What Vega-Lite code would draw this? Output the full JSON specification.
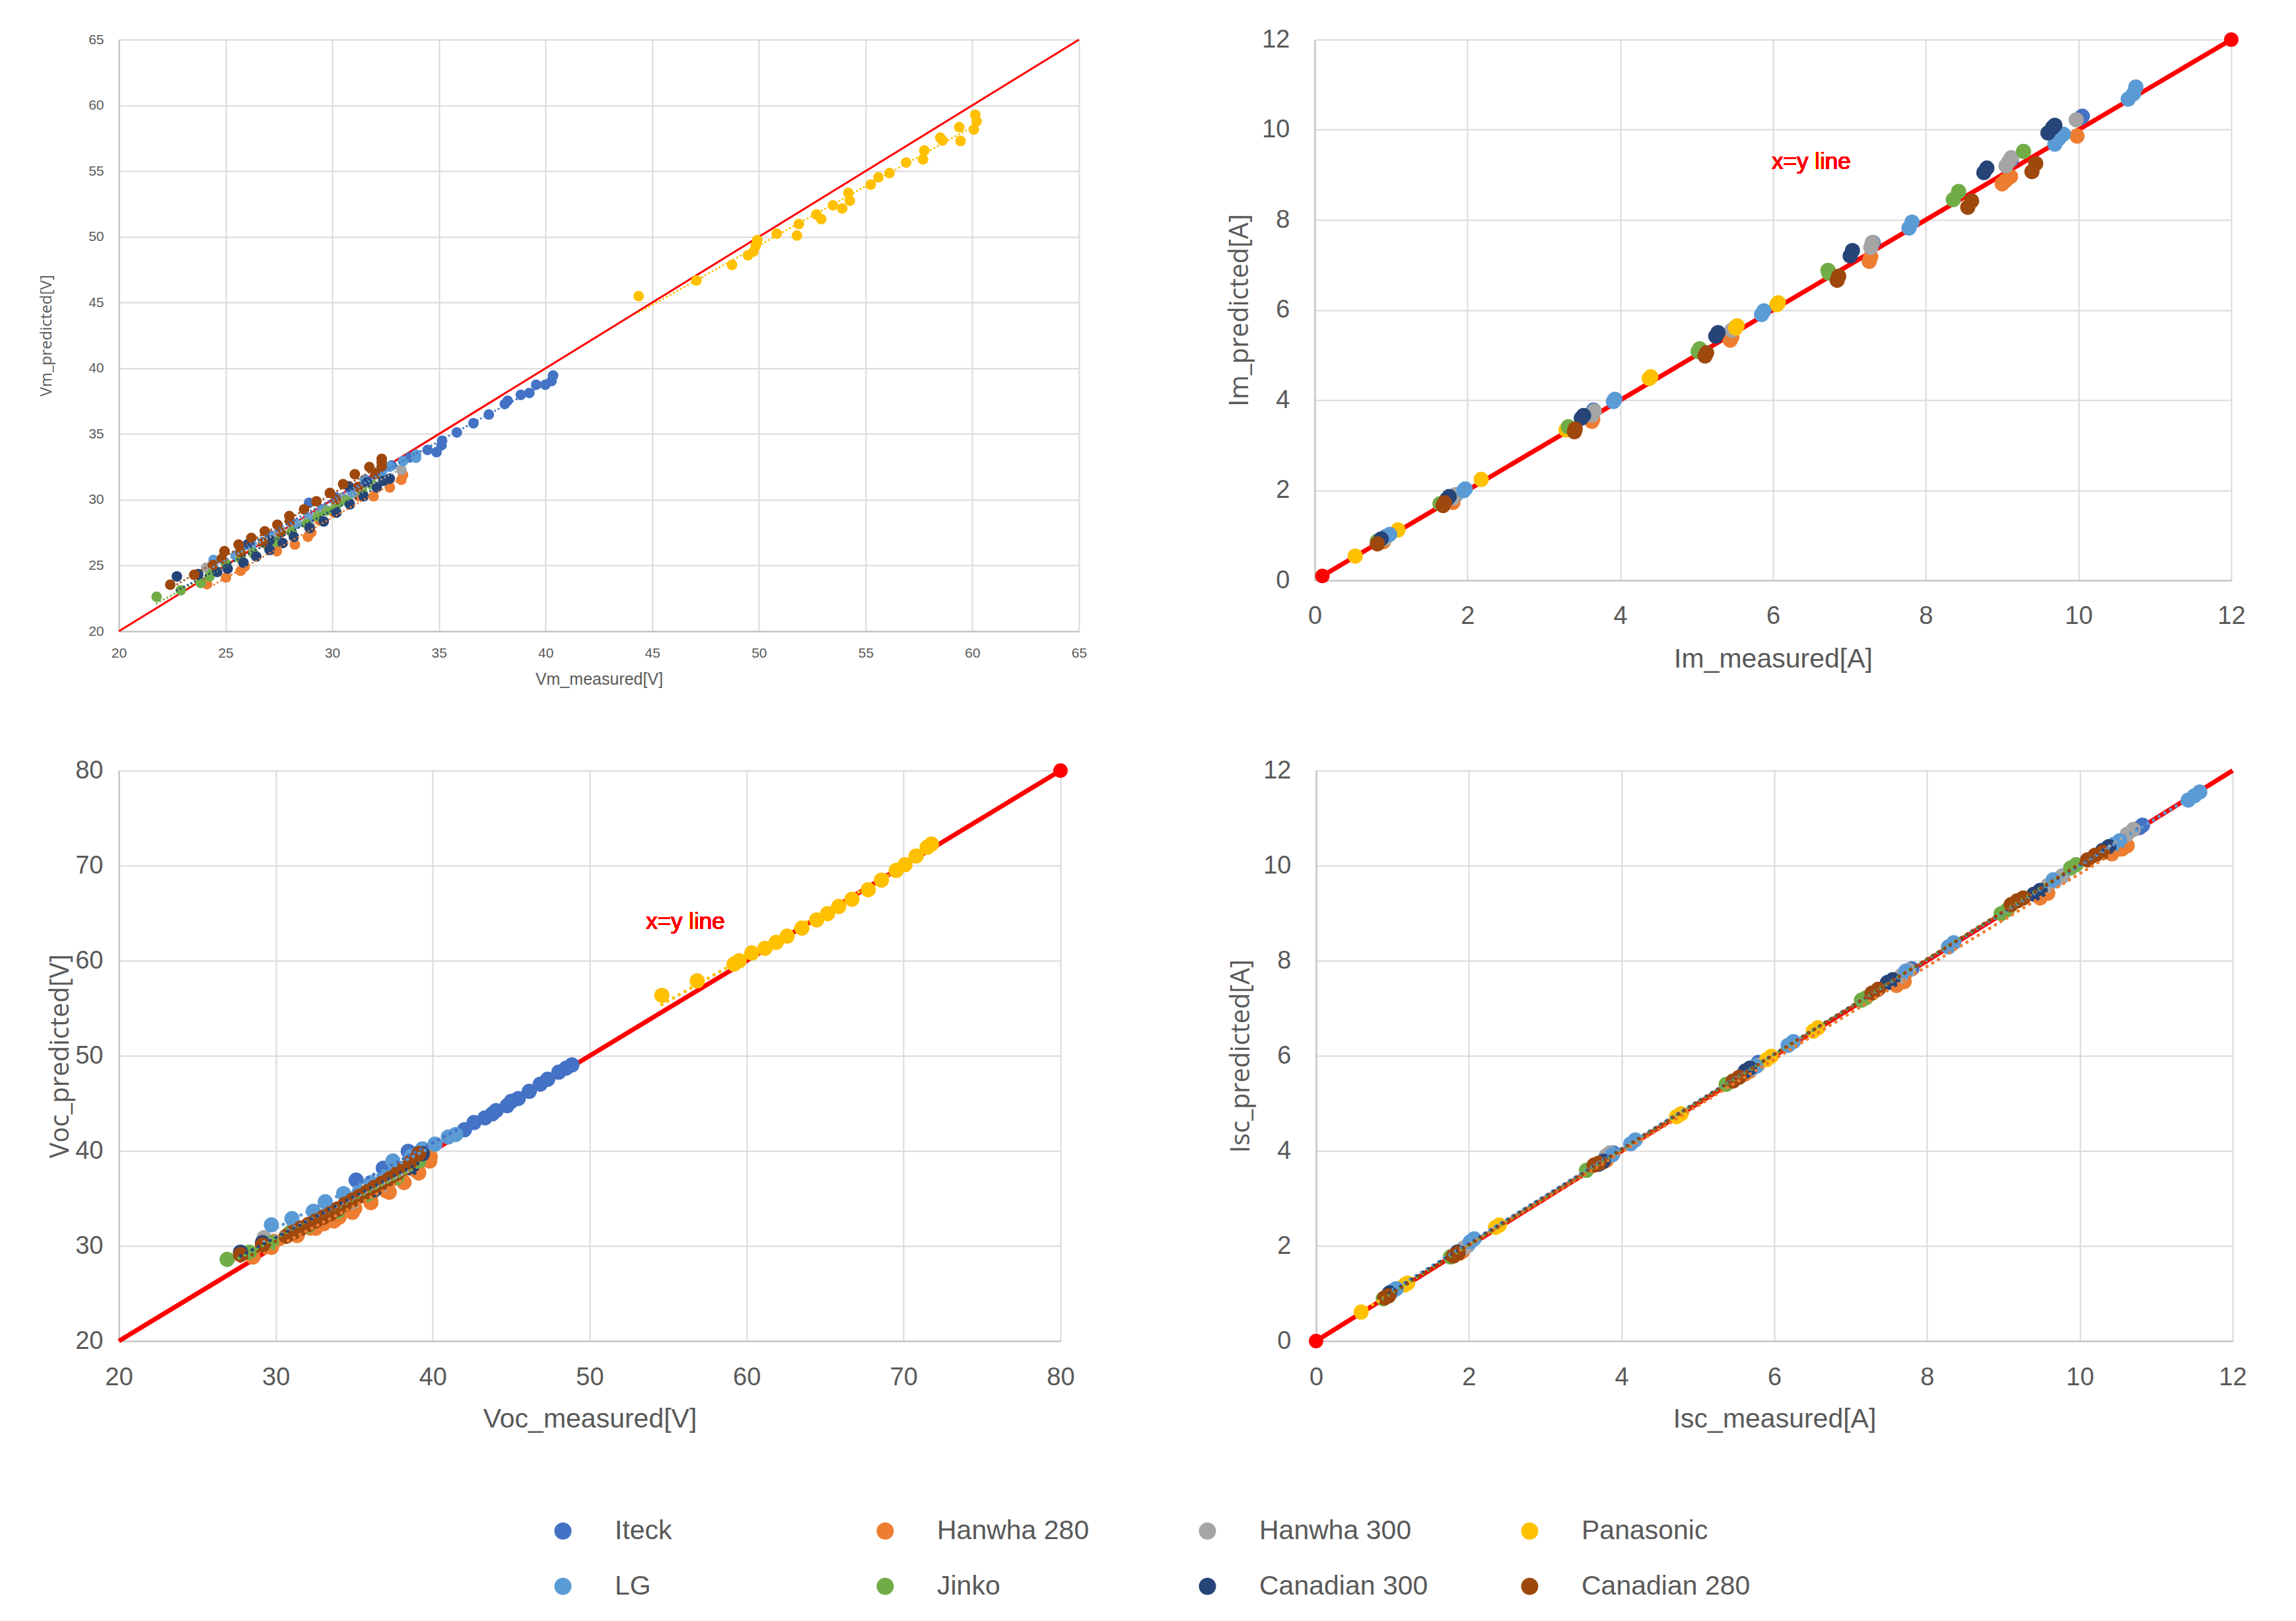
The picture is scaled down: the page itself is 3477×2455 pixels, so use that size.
{
  "$schema": "https://vega.github.io/schema/vega-lite/v6.json",
  "background": "white",
  "padding": {"left": 58, "top": 41, "right": 20, "bottom": 20},
  "spacing": 107,
  "config": {
    "view": {"stroke": null},
    "axis": {
      "gridColor": "#d9d9d9", "gridWidth": 2, "domainColor": "#bfbfbf", "domainWidth": 2,
      "ticks": false, "tickSize": 0, "labelColor": "#595959", "titleColor": "#595959",
      "labelFont": "Liberation Sans", "titleFont": "Liberation Sans",
      "titleFontWeight": "normal", "labelFlush": false, "labelOverlap": false
    },
    "legend": {
      "orient": "none", "legendX": 652, "legendY": 2238, "direction": "horizontal", "columns": 4,
      "gridAlign": "all", "columnPadding": 133, "rowPadding": 42, "symbolType": "circle",
      "symbolSize": 676, "symbolStrokeWidth": 0, "symbolOpacity": 1,
      "labelFont": "Liberation Sans", "labelFontSize": 41,
      "labelColor": "#595959", "labelOffset": 58, "labelLimit": 0
    }
  },
  "datasets": {
    "vm": [
      {"series":"Iteck","measured":40.35,"predicted":39.45},{"series":"Iteck","measured":40.28,"predicted":39.03},{"series":"Iteck","measured":39.99,"predicted":38.75},{"series":"Iteck","measured":39.56,"predicted":38.75},{"series":"Iteck","measured":39.24,"predicted":38.12},{"series":"Iteck","measured":38.84,"predicted":37.98},{"series":"Iteck","measured":38.22,"predicted":37.53},{"series":"Iteck","measured":38.09,"predicted":37.28},{"series":"Iteck","measured":37.34,"predicted":36.48},{"series":"Iteck","measured":36.62,"predicted":35.82},{"series":"Iteck","measured":35.84,"predicted":35.12},{"series":"Iteck","measured":35.15,"predicted":34.49},{"series":"Iteck","measured":35.12,"predicted":34.14},{"series":"Iteck","measured":34.89,"predicted":33.62},{"series":"Iteck","measured":34.47,"predicted":33.79},{"series":"Iteck","measured":33.63,"predicted":33.22},{"series":"Iteck","measured":32.78,"predicted":32.6},{"series":"Iteck","measured":31.55,"predicted":31.52},{"series":"Iteck","measured":30.17,"predicted":30.18},{"series":"Iteck","measured":28.91,"predicted":29.77},{"series":"Iteck","measured":27.1,"predicted":27.26},{"series":"Iteck","measured":26.02,"predicted":26.59},
      {"series":"Hanwha 280","measured":24.13,"predicted":23.59},{"series":"Hanwha 280","measured":25.02,"predicted":24.09},{"series":"Hanwha 280","measured":25.71,"predicted":24.59},{"series":"Hanwha 280","measured":25.9,"predicted":24.92},{"series":"Hanwha 280","measured":27.4,"predicted":26.09},{"series":"Hanwha 280","measured":28.25,"predicted":26.59},{"series":"Hanwha 280","measured":28.86,"predicted":27.18},{"series":"Hanwha 280","measured":29.02,"predicted":27.51},{"series":"Hanwha 280","measured":29.4,"predicted":28.43},{"series":"Hanwha 280","measured":30.09,"predicted":29.02},{"series":"Hanwha 280","measured":31.24,"predicted":30.27},{"series":"Hanwha 280","measured":31.94,"predicted":30.27},{"series":"Hanwha 280","measured":32.7,"predicted":30.93},{"series":"Hanwha 280","measured":33.24,"predicted":31.52},{"series":"Hanwha 280","measured":33.32,"predicted":31.89},
      {"series":"Hanwha 300","measured":24.1,"predicted":24.84},{"series":"Hanwha 300","measured":27.4,"predicted":27.35},{"series":"Hanwha 300","measured":28.94,"predicted":28.01},{"series":"Hanwha 300","measured":30.48,"predicted":30.18},{"series":"Hanwha 300","measured":31.55,"predicted":31.35},{"series":"Hanwha 300","measured":33.24,"predicted":32.27},
      {"series":"Panasonic","measured":44.36,"predicted":45.49},{"series":"Panasonic","measured":47.07,"predicted":46.68},{"series":"Panasonic","measured":48.74,"predicted":47.86},{"series":"Panasonic","measured":49.49,"predicted":48.6},{"series":"Panasonic","measured":49.75,"predicted":48.88},{"series":"Panasonic","measured":49.85,"predicted":49.33},{"series":"Panasonic","measured":49.92,"predicted":49.75},{"series":"Panasonic","measured":50.83,"predicted":50.24},{"series":"Panasonic","measured":51.78,"predicted":50.1},{"series":"Panasonic","measured":51.87,"predicted":50.97},{"series":"Panasonic","measured":52.69,"predicted":51.7},{"series":"Panasonic","measured":52.92,"predicted":51.35},{"series":"Panasonic","measured":53.47,"predicted":52.4},{"series":"Panasonic","measured":53.9,"predicted":52.16},{"series":"Panasonic","measured":54.19,"predicted":53.34},{"series":"Panasonic","measured":54.26,"predicted":52.75},{"series":"Panasonic","measured":55.24,"predicted":53.97},{"series":"Panasonic","measured":55.6,"predicted":54.53},{"series":"Panasonic","measured":56.12,"predicted":54.85},{"series":"Panasonic","measured":56.9,"predicted":55.65},{"series":"Panasonic","measured":57.69,"predicted":55.89},{"series":"Panasonic","measured":57.75,"predicted":56.56},{"series":"Panasonic","measured":58.5,"predicted":57.54},{"series":"Panasonic","measured":58.6,"predicted":57.33},{"series":"Panasonic","measured":59.39,"predicted":58.34},{"series":"Panasonic","measured":59.45,"predicted":57.29},{"series":"Panasonic","measured":60.07,"predicted":58.16},{"series":"Panasonic","measured":60.14,"predicted":59.28},{"series":"Panasonic","measured":60.2,"predicted":58.79},
      {"series":"LG","measured":24.44,"predicted":25.43},{"series":"LG","measured":25.48,"predicted":25.76},{"series":"LG","measured":26.22,"predicted":26.54},{"series":"LG","measured":27.1,"predicted":27.18},{"series":"LG","measured":28.33,"predicted":28.18},{"series":"LG","measured":28.94,"predicted":28.6},{"series":"LG","measured":29.55,"predicted":29.27},{"series":"LG","measured":30.25,"predicted":29.77},{"series":"LG","measured":30.94,"predicted":30.52},{"series":"LG","measured":31.52,"predicted":31.52},{"series":"LG","measured":32.17,"predicted":32.1},{"series":"LG","measured":32.32,"predicted":31.85},{"series":"LG","measured":32.7,"predicted":32.52},{"series":"LG","measured":33.32,"predicted":32.94},{"series":"LG","measured":33.93,"predicted":33.44},{"series":"LG","measured":33.93,"predicted":33.19},
      {"series":"Jinko","measured":21.77,"predicted":22.62},{"series":"Jinko","measured":22.9,"predicted":23.12},{"series":"Jinko","measured":23.84,"predicted":23.67},{"series":"Jinko","measured":24.25,"predicted":24.17},{"series":"Jinko","measured":24.41,"predicted":24.59},{"series":"Jinko","measured":25.02,"predicted":25.14},{"series":"Jinko","measured":25.71,"predicted":25.51},{"series":"Jinko","measured":26.3,"predicted":25.93},{"series":"Jinko","measured":27.02,"predicted":26.34},{"series":"Jinko","measured":27.4,"predicted":26.81},{"series":"Jinko","measured":28.1,"predicted":27.55},{"series":"Jinko","measured":28.79,"predicted":28.18},{"series":"Jinko","measured":29.32,"predicted":28.76},{"series":"Jinko","measured":29.74,"predicted":29.18},{"series":"Jinko","measured":30.17,"predicted":29.52},{"series":"Jinko","measured":30.63,"predicted":29.93},{"series":"Jinko","measured":31.4,"predicted":30.68},{"series":"Jinko","measured":31.86,"predicted":31.19},
      {"series":"Canadian 300","measured":22.72,"predicted":24.17},{"series":"Canadian 300","measured":23.72,"predicted":24.34},{"series":"Canadian 300","measured":24.61,"predicted":24.51},{"series":"Canadian 300","measured":25.1,"predicted":24.76},{"series":"Canadian 300","measured":25.84,"predicted":25.21},{"series":"Canadian 300","measured":26.1,"predicted":26.68},{"series":"Canadian 300","measured":26.44,"predicted":25.68},{"series":"Canadian 300","measured":27.07,"predicted":26.18},{"series":"Canadian 300","measured":27.07,"predicted":26.93},{"series":"Canadian 300","measured":27.68,"predicted":26.71},{"series":"Canadian 300","measured":28.2,"predicted":27.18},{"series":"Canadian 300","measured":28.94,"predicted":27.85},{"series":"Canadian 300","measured":29.6,"predicted":28.35},{"series":"Canadian 300","measured":30.2,"predicted":29.02},{"series":"Canadian 300","measured":30.83,"predicted":29.65},{"series":"Canadian 300","measured":30.78,"predicted":31.02},{"series":"Canadian 300","measured":31.47,"predicted":30.27},{"series":"Canadian 300","measured":31.63,"predicted":31.32},{"series":"Canadian 300","measured":32.09,"predicted":30.93},{"series":"Canadian 300","measured":32.4,"predicted":31.44},{"series":"Canadian 300","measured":32.7,"predicted":31.6},
      {"series":"Canadian 280","measured":22.41,"predicted":23.54},{"series":"Canadian 280","measured":23.53,"predicted":24.29},{"series":"Canadian 280","measured":24.41,"predicted":25.04},{"series":"Canadian 280","measured":24.82,"predicted":25.51},{"series":"Canadian 280","measured":24.95,"predicted":26.09},{"series":"Canadian 280","measured":25.61,"predicted":26.59},{"series":"Canadian 280","measured":25.71,"predicted":26.01},{"series":"Canadian 280","measured":26.21,"predicted":27.1},{"series":"Canadian 280","measured":26.76,"predicted":26.76},{"series":"Canadian 280","measured":26.84,"predicted":27.6},{"series":"Canadian 280","measured":27.43,"predicted":28.1},{"series":"Canadian 280","measured":27.6,"predicted":27.51},{"series":"Canadian 280","measured":27.99,"predicted":28.76},{"series":"Canadian 280","measured":28.02,"predicted":28.35},{"series":"Canadian 280","measured":28.68,"predicted":29.27},{"series":"Canadian 280","measured":29.26,"predicted":29.88},{"series":"Canadian 280","measured":29.89,"predicted":30.52},{"series":"Canadian 280","measured":30.17,"predicted":30.02},{"series":"Canadian 280","measured":30.51,"predicted":31.19},{"series":"Canadian 280","measured":31.06,"predicted":31.94},{"series":"Canadian 280","measured":31.21,"predicted":30.98},{"series":"Canadian 280","measured":31.74,"predicted":32.49},{"series":"Canadian 280","measured":32.01,"predicted":31.94},{"series":"Canadian 280","measured":32.32,"predicted":33.11},{"series":"Canadian 280","measured":32.32,"predicted":32.52},{"series":"Canadian 280","measured":32.32,"predicted":32.85}
    ],
    "im": [
      {"series":"Iteck","measured":0.93,"predicted":0.97},{"series":"Iteck","measured":1.85,"predicted":1.9},{"series":"Iteck","measured":3.65,"predicted":3.78},{"series":"Iteck","measured":5.5,"predicted":5.6},{"series":"Iteck","measured":7.31,"predicted":7.5},{"series":"Iteck","measured":9.12,"predicted":9.33},{"series":"Iteck","measured":10.03,"predicted":10.27},{"series":"Iteck","measured":10.05,"predicted":10.3},
      {"series":"Hanwha 280","measured":0.9,"predicted":0.86},{"series":"Hanwha 280","measured":1.81,"predicted":1.73},{"series":"Hanwha 280","measured":3.63,"predicted":3.53},{"series":"Hanwha 280","measured":3.64,"predicted":3.58},{"series":"Hanwha 280","measured":5.44,"predicted":5.33},{"series":"Hanwha 280","measured":5.46,"predicted":5.4},{"series":"Hanwha 280","measured":7.26,"predicted":7.08},{"series":"Hanwha 280","measured":7.28,"predicted":7.18},{"series":"Hanwha 280","measured":9.0,"predicted":8.8},{"series":"Hanwha 280","measured":9.05,"predicted":8.88},{"series":"Hanwha 280","measured":9.11,"predicted":8.96},{"series":"Hanwha 280","measured":9.98,"predicted":9.86},
      {"series":"Hanwha 300","measured":0.92,"predicted":0.93},{"series":"Hanwha 300","measured":1.81,"predicted":1.83},{"series":"Hanwha 300","measured":1.84,"predicted":1.9},{"series":"Hanwha 300","measured":3.63,"predicted":3.67},{"series":"Hanwha 300","measured":3.66,"predicted":3.76},{"series":"Hanwha 300","measured":5.46,"predicted":5.55},{"series":"Hanwha 300","measured":7.28,"predicted":7.39},{"series":"Hanwha 300","measured":7.3,"predicted":7.5},{"series":"Hanwha 300","measured":9.05,"predicted":9.2},{"series":"Hanwha 300","measured":9.09,"predicted":9.3},{"series":"Hanwha 300","measured":9.12,"predicted":9.38},{"series":"Hanwha 300","measured":9.97,"predicted":10.22},
      {"series":"Panasonic","measured":0.53,"predicted":0.54},{"series":"Panasonic","measured":1.09,"predicted":1.12},{"series":"Panasonic","measured":2.18,"predicted":2.24},{"series":"Panasonic","measured":3.29,"predicted":3.34},{"series":"Panasonic","measured":4.38,"predicted":4.48},{"series":"Panasonic","measured":4.4,"predicted":4.52},{"series":"Panasonic","measured":5.51,"predicted":5.6},{"series":"Panasonic","measured":5.53,"predicted":5.65},{"series":"Panasonic","measured":6.07,"predicted":6.16},{"series":"Panasonic","measured":6.05,"predicted":6.12},
      {"series":"LG","measured":0.98,"predicted":1.02},{"series":"LG","measured":1.95,"predicted":1.99},{"series":"LG","measured":1.97,"predicted":2.03},{"series":"LG","measured":3.91,"predicted":3.97},{"series":"LG","measured":3.93,"predicted":4.02},{"series":"LG","measured":5.85,"predicted":5.9},{"series":"LG","measured":5.88,"predicted":5.98},{"series":"LG","measured":7.78,"predicted":7.82},{"series":"LG","measured":7.82,"predicted":7.95},{"series":"LG","measured":9.69,"predicted":9.68},{"series":"LG","measured":9.74,"predicted":9.8},{"series":"LG","measured":9.8,"predicted":9.9},{"series":"LG","measured":10.65,"predicted":10.68},{"series":"LG","measured":10.72,"predicted":10.8},{"series":"LG","measured":10.75,"predicted":10.95},
      {"series":"Jinko","measured":0.82,"predicted":0.87},{"series":"Jinko","measured":1.64,"predicted":1.7},{"series":"Jinko","measured":3.32,"predicted":3.41},{"series":"Jinko","measured":5.04,"predicted":5.14},{"series":"Jinko","measured":5.02,"predicted":5.08},{"series":"Jinko","measured":6.72,"predicted":6.88},{"series":"Jinko","measured":6.73,"predicted":6.82},{"series":"Jinko","measured":8.36,"predicted":8.45},{"series":"Jinko","measured":8.43,"predicted":8.63},{"series":"Jinko","measured":9.28,"predicted":9.52},
      {"series":"Canadian 300","measured":0.87,"predicted":0.92},{"series":"Canadian 300","measured":1.73,"predicted":1.8},{"series":"Canadian 300","measured":1.76,"predicted":1.86},{"series":"Canadian 300","measured":3.49,"predicted":3.6},{"series":"Canadian 300","measured":3.52,"predicted":3.66},{"series":"Canadian 300","measured":5.25,"predicted":5.42},{"series":"Canadian 300","measured":5.28,"predicted":5.5},{"series":"Canadian 300","measured":7.01,"predicted":7.2},{"series":"Canadian 300","measured":7.04,"predicted":7.32},{"series":"Canadian 300","measured":8.76,"predicted":9.05},{"series":"Canadian 300","measured":8.8,"predicted":9.15},{"series":"Canadian 300","measured":9.6,"predicted":9.93},{"series":"Canadian 300","measured":9.66,"predicted":10.05},{"series":"Canadian 300","measured":9.69,"predicted":10.1},
      {"series":"Canadian 280","measured":0.82,"predicted":0.81},{"series":"Canadian 280","measured":1.68,"predicted":1.66},{"series":"Canadian 280","measured":1.7,"predicted":1.72},{"series":"Canadian 280","measured":3.4,"predicted":3.3},{"series":"Canadian 280","measured":3.41,"predicted":3.36},{"series":"Canadian 280","measured":5.11,"predicted":4.98},{"series":"Canadian 280","measured":5.13,"predicted":5.05},{"series":"Canadian 280","measured":6.84,"predicted":6.66},{"series":"Canadian 280","measured":6.86,"predicted":6.75},{"series":"Canadian 280","measured":8.55,"predicted":8.28},{"series":"Canadian 280","measured":8.6,"predicted":8.42},{"series":"Canadian 280","measured":9.39,"predicted":9.07},{"series":"Canadian 280","measured":9.44,"predicted":9.25}
    ],
    "voc": [
      {"series":"Iteck","measured":35.12,"predicted":36.92},{"series":"Iteck","measured":36.85,"predicted":38.18},{"series":"Iteck","measured":38.44,"predicted":39.95},{"series":"Iteck","measured":39.2,"predicted":39.9},{"series":"Iteck","measured":42.02,"predicted":42.22},{"series":"Iteck","measured":42.63,"predicted":42.98},{"series":"Iteck","measured":43.33,"predicted":43.48},{"series":"Iteck","measured":43.8,"predicted":43.9},{"series":"Iteck","measured":44.04,"predicted":44.24},{"series":"Iteck","measured":44.74,"predicted":44.75},{"series":"Iteck","measured":45.0,"predicted":45.2},{"series":"Iteck","measured":45.45,"predicted":45.51},{"series":"Iteck","measured":46.15,"predicted":46.26},{"series":"Iteck","measured":46.85,"predicted":47.02},{"series":"Iteck","measured":47.32,"predicted":47.53},{"series":"Iteck","measured":48.03,"predicted":48.28},{"series":"Iteck","measured":48.5,"predicted":48.7},{"series":"Iteck","measured":48.87,"predicted":49.04},
      {"series":"Hanwha 280","measured":28.54,"predicted":28.84},{"series":"Hanwha 280","measured":29.72,"predicted":29.85},{"series":"Hanwha 280","measured":29.9,"predicted":30.49},{"series":"Hanwha 280","measured":31.36,"predicted":31.11},{"series":"Hanwha 280","measured":31.39,"predicted":31.3},{"series":"Hanwha 280","measured":32.22,"predicted":31.88},{"series":"Hanwha 280","measured":32.54,"predicted":31.87},{"series":"Hanwha 280","measured":33.05,"predicted":32.34},{"series":"Hanwha 280","measured":33.71,"predicted":32.63},{"series":"Hanwha 280","measured":34.04,"predicted":33.03},{"series":"Hanwha 280","measured":34.88,"predicted":33.54},{"series":"Hanwha 280","measured":35.03,"predicted":33.96},{"series":"Hanwha 280","measured":36.03,"predicted":34.88},{"series":"Hanwha 280","measured":36.06,"predicted":34.55},{"series":"Hanwha 280","measured":37.02,"predicted":35.81},{"series":"Hanwha 280","measured":37.23,"predicted":35.66},{"series":"Hanwha 280","measured":38.02,"predicted":36.97},{"series":"Hanwha 280","measured":38.17,"predicted":36.67},{"series":"Hanwha 280","measured":39.01,"predicted":38.35},{"series":"Hanwha 280","measured":39.11,"predicted":37.68},{"series":"Hanwha 280","measured":39.81,"predicted":38.94},{"series":"Hanwha 280","measured":39.84,"predicted":39.4},
      {"series":"Hanwha 300","measured":29.25,"predicted":30.86},{"series":"Hanwha 300","measured":31.13,"predicted":31.87},{"series":"Hanwha 300","measured":33.0,"predicted":33.13},{"series":"Hanwha 300","measured":34.88,"predicted":34.65},{"series":"Hanwha 300","measured":36.76,"predicted":36.41},{"series":"Hanwha 300","measured":38.64,"predicted":38.43},
      {"series":"Panasonic","measured":54.6,"predicted":56.36},{"series":"Panasonic","measured":56.85,"predicted":57.88},{"series":"Panasonic","measured":59.2,"predicted":59.65},{"series":"Panasonic","measured":59.53,"predicted":60.0},{"series":"Panasonic","measured":60.33,"predicted":60.81},{"series":"Panasonic","measured":61.17,"predicted":61.31},{"series":"Panasonic","measured":61.88,"predicted":61.92},{"series":"Panasonic","measured":62.58,"predicted":62.58},{"series":"Panasonic","measured":63.52,"predicted":63.43},{"series":"Panasonic","measured":64.46,"predicted":64.29},{"series":"Panasonic","measured":65.16,"predicted":64.95},{"series":"Panasonic","measured":65.87,"predicted":65.71},{"series":"Panasonic","measured":66.71,"predicted":66.46},{"series":"Panasonic","measured":67.75,"predicted":67.47},{"series":"Panasonic","measured":68.59,"predicted":68.48},{"series":"Panasonic","measured":69.53,"predicted":69.49},{"series":"Panasonic","measured":70.09,"predicted":70.1},{"series":"Panasonic","measured":70.8,"predicted":71.01},{"series":"Panasonic","measured":71.5,"predicted":71.92},{"series":"Panasonic","measured":71.78,"predicted":72.27},
      {"series":"LG","measured":29.72,"predicted":32.22},{"series":"LG","measured":31.03,"predicted":32.88},{"series":"LG","measured":32.39,"predicted":33.64},{"series":"LG","measured":33.15,"predicted":34.65},{"series":"LG","measured":34.32,"predicted":35.51},{"series":"LG","measured":35.3,"predicted":35.6},{"series":"LG","measured":36.06,"predicted":36.67},{"series":"LG","measured":36.9,"predicted":37.3},{"series":"LG","measured":37.46,"predicted":38.94},{"series":"LG","measured":38.64,"predicted":39.44},{"series":"LG","measured":39.34,"predicted":40.2},{"series":"LG","measured":40.14,"predicted":40.71},{"series":"LG","measured":40.99,"predicted":41.46},{"series":"LG","measured":41.46,"predicted":41.72},
      {"series":"Jinko","measured":26.9,"predicted":28.59},{"series":"Jinko","measured":28.31,"predicted":29.34},{"series":"Jinko","measured":29.72,"predicted":30.35},{"series":"Jinko","measured":30.89,"predicted":31.36},{"series":"Jinko","measured":32.07,"predicted":32.12},{"series":"Jinko","measured":33.94,"predicted":33.64},{"series":"Jinko","measured":35.82,"predicted":35.4},{"series":"Jinko","measured":37.7,"predicted":37.17},{"series":"Jinko","measured":39.11,"predicted":38.94},
      {"series":"Canadian 300","measured":27.75,"predicted":29.34},{"series":"Canadian 300","measured":29.15,"predicted":30.35},{"series":"Canadian 300","measured":31.6,"predicted":31.87},{"series":"Canadian 300","measured":33.94,"predicted":33.89},{"series":"Canadian 300","measured":36.29,"predicted":35.91},{"series":"Canadian 300","measured":38.64,"predicted":38.18},{"series":"Canadian 300","measured":39.34,"predicted":39.7},
      {"series":"Canadian 280","measured":27.75,"predicted":29.09},{"series":"Canadian 280","measured":29.15,"predicted":30.1},{"series":"Canadian 280","measured":30.66,"predicted":31.01},{"series":"Canadian 280","measured":31.13,"predicted":31.45},{"series":"Canadian 280","measured":31.6,"predicted":31.87},{"series":"Canadian 280","measured":32.07,"predicted":32.25},{"series":"Canadian 280","measured":32.54,"predicted":32.63},{"series":"Canadian 280","measured":33.0,"predicted":33.0},{"series":"Canadian 280","measured":33.47,"predicted":33.38},{"series":"Canadian 280","measured":33.94,"predicted":33.88},{"series":"Canadian 280","measured":34.41,"predicted":34.39},{"series":"Canadian 280","measured":34.88,"predicted":34.82},{"series":"Canadian 280","measured":35.35,"predicted":35.25},{"series":"Canadian 280","measured":35.82,"predicted":35.7},{"series":"Canadian 280","measured":36.29,"predicted":36.16},{"series":"Canadian 280","measured":36.76,"predicted":36.6},{"series":"Canadian 280","measured":37.23,"predicted":37.07},{"series":"Canadian 280","measured":37.7,"predicted":37.6},{"series":"Canadian 280","measured":38.17,"predicted":38.18},{"series":"Canadian 280","measured":38.64,"predicted":38.9},{"series":"Canadian 280","measured":39.11,"predicted":39.7}
    ],
    "isc": [
      {"series":"Iteck","measured":1.99,"predicted":2.02},{"series":"Iteck","measured":3.89,"predicted":3.96},{"series":"Iteck","measured":5.79,"predicted":5.86},{"series":"Iteck","measured":7.8,"predicted":7.83},{"series":"Iteck","measured":9.77,"predicted":9.78},{"series":"Iteck","measured":10.78,"predicted":10.8},{"series":"Iteck","measured":10.82,"predicted":10.85},
      {"series":"Hanwha 280","measured":1.88,"predicted":1.85},{"series":"Hanwha 280","measured":1.92,"predicted":1.89},{"series":"Hanwha 280","measured":3.75,"predicted":3.76},{"series":"Hanwha 280","measured":3.8,"predicted":3.8},{"series":"Hanwha 280","measured":5.62,"predicted":5.62},{"series":"Hanwha 280","measured":5.68,"predicted":5.68},{"series":"Hanwha 280","measured":7.6,"predicted":7.48},{"series":"Hanwha 280","measured":7.7,"predicted":7.56},{"series":"Hanwha 280","measured":9.48,"predicted":9.32},{"series":"Hanwha 280","measured":9.58,"predicted":9.42},{"series":"Hanwha 280","measured":10.42,"predicted":10.25},{"series":"Hanwha 280","measured":10.55,"predicted":10.35},{"series":"Hanwha 280","measured":10.62,"predicted":10.42},
      {"series":"Hanwha 300","measured":1.93,"predicted":1.95},{"series":"Hanwha 300","measured":1.98,"predicted":2.0},{"series":"Hanwha 300","measured":3.8,"predicted":3.9},{"series":"Hanwha 300","measured":3.85,"predicted":3.96},{"series":"Hanwha 300","measured":5.7,"predicted":5.72},{"series":"Hanwha 300","measured":5.78,"predicted":5.8},{"series":"Hanwha 300","measured":7.66,"predicted":7.68},{"series":"Hanwha 300","measured":7.76,"predicted":7.8},{"series":"Hanwha 300","measured":9.58,"predicted":9.58},{"series":"Hanwha 300","measured":9.68,"predicted":9.68},{"series":"Hanwha 300","measured":9.76,"predicted":9.77},{"series":"Hanwha 300","measured":10.62,"predicted":10.66},{"series":"Hanwha 300","measured":10.7,"predicted":10.76},
      {"series":"Panasonic","measured":0.59,"predicted":0.61},{"series":"Panasonic","measured":1.16,"predicted":1.18},{"series":"Panasonic","measured":1.2,"predicted":1.22},{"series":"Panasonic","measured":2.35,"predicted":2.39},{"series":"Panasonic","measured":2.4,"predicted":2.44},{"series":"Panasonic","measured":4.72,"predicted":4.72},{"series":"Panasonic","measured":4.78,"predicted":4.78},{"series":"Panasonic","measured":5.9,"predicted":5.92},{"series":"Panasonic","measured":5.96,"predicted":5.99},{"series":"Panasonic","measured":6.51,"predicted":6.52},{"series":"Panasonic","measured":6.57,"predicted":6.59},
      {"series":"LG","measured":1.01,"predicted":1.06},{"series":"LG","measured":1.05,"predicted":1.1},{"series":"LG","measured":2.02,"predicted":2.09},{"series":"LG","measured":2.07,"predicted":2.15},{"series":"LG","measured":3.88,"predicted":3.92},{"series":"LG","measured":4.12,"predicted":4.15},{"series":"LG","measured":4.18,"predicted":4.23},{"series":"LG","measured":5.76,"predicted":5.78},{"series":"LG","measured":6.18,"predicted":6.22},{"series":"LG","measured":6.25,"predicted":6.3},{"series":"LG","measured":7.72,"predicted":7.78},{"series":"LG","measured":8.28,"predicted":8.29},{"series":"LG","measured":8.35,"predicted":8.38},{"series":"LG","measured":9.65,"predicted":9.7},{"series":"LG","measured":10.45,"predicted":10.45},{"series":"LG","measured":10.52,"predicted":10.52},{"series":"LG","measured":11.42,"predicted":11.38},{"series":"LG","measured":11.5,"predicted":11.47},{"series":"LG","measured":11.57,"predicted":11.55},
      {"series":"Jinko","measured":0.88,"predicted":0.89},{"series":"Jinko","measured":1.76,"predicted":1.77},{"series":"Jinko","measured":3.54,"predicted":3.59},{"series":"Jinko","measured":5.37,"predicted":5.4},{"series":"Jinko","measured":7.14,"predicted":7.17},{"series":"Jinko","measured":7.2,"predicted":7.22},{"series":"Jinko","measured":8.97,"predicted":8.99},{"series":"Jinko","measured":9.05,"predicted":9.07},{"series":"Jinko","measured":9.88,"predicted":9.95},{"series":"Jinko","measured":9.95,"predicted":10.02},
      {"series":"Canadian 300","measured":0.96,"predicted":1.01},{"series":"Canadian 300","measured":1.85,"predicted":1.87},{"series":"Canadian 300","measured":3.7,"predicted":3.72},{"series":"Canadian 300","measured":3.76,"predicted":3.78},{"series":"Canadian 300","measured":5.62,"predicted":5.68},{"series":"Canadian 300","measured":5.68,"predicted":5.74},{"series":"Canadian 300","measured":7.48,"predicted":7.54},{"series":"Canadian 300","measured":7.55,"predicted":7.6},{"series":"Canadian 300","measured":9.4,"predicted":9.4},{"series":"Canadian 300","measured":9.48,"predicted":9.48},{"series":"Canadian 300","measured":10.3,"predicted":10.32},{"series":"Canadian 300","measured":10.38,"predicted":10.4},
      {"series":"Canadian 280","measured":0.9,"predicted":0.91},{"series":"Canadian 280","measured":0.95,"predicted":0.95},{"series":"Canadian 280","measured":1.8,"predicted":1.79},{"series":"Canadian 280","measured":1.86,"predicted":1.85},{"series":"Canadian 280","measured":3.64,"predicted":3.7},{"series":"Canadian 280","measured":3.7,"predicted":3.74},{"series":"Canadian 280","measured":5.46,"predicted":5.47},{"series":"Canadian 280","measured":5.54,"predicted":5.55},{"series":"Canadian 280","measured":7.28,"predicted":7.32},{"series":"Canadian 280","measured":7.36,"predicted":7.4},{"series":"Canadian 280","measured":9.1,"predicted":9.18},{"series":"Canadian 280","measured":9.18,"predicted":9.26},{"series":"Canadian 280","measured":9.26,"predicted":9.32},{"series":"Canadian 280","measured":10.1,"predicted":10.12},{"series":"Canadian 280","measured":10.2,"predicted":10.22},{"series":"Canadian 280","measured":10.3,"predicted":10.28}
    ]
  },
  "vconcat": [
    {
      "spacing": 211,
      "hconcat": [
        {
          "width": 1454, "height": 896,
          "data": {"name": "vm"},
          "encoding": {
            "x": {"field": "measured", "type": "quantitative", "title": "Vm_measured[V]",
              "scale": {"domain": [20, 65], "nice": false, "zero": false},
              "axis": {"values": [20,25,30,35,40,45,50,55,60,65], "labelFontSize": 21, "titleFontSize": 25, "labelPadding": 22, "titlePadding": 17}},
            "y": {"field": "predicted", "type": "quantitative", "title": "Vm_predicted[V]",
              "scale": {"domain": [20, 65], "nice": false, "zero": false},
              "axis": {"values": [20,25,30,35,40,45,50,55,60,65], "labelFontSize": 21, "titleFontSize": 24, "titleFont": "Open Sans", "labelPadding": 23, "titlePadding": 51}}
          },
          "layer": [
            {"data": {"values": [{"measured": 20, "predicted": 20}, {"measured": 65, "predicted": 65}]},
             "mark": {"type": "line", "color": "#ff0000", "strokeWidth": 3}},
            {"mark": {"type": "point", "filled": true, "opacity": 1, "size": 256, "shape": "circle"},
             "encoding": {"color": {"field": "series", "type": "nominal", "legend": {"title": null},
               "scale": {"domain": ["Iteck","Hanwha 280","Hanwha 300","Panasonic","LG","Jinko","Canadian 300","Canadian 280"],
                         "range": ["#4472c4","#ed7d31","#a5a5a5","#ffc000","#5b9bd5","#70ad47","#264478","#9e480e"]}}}},
            {"transform": [{"regression": "predicted", "on": "measured", "groupby": ["series"]}],
             "mark": {"type": "line", "strokeWidth": 3, "strokeDash": [0.1, 6], "strokeCap": "round"},
             "encoding": {"color": {"field": "series", "type": "nominal", "legend": null}}}
          ]
        },
        {
          "width": 1388, "height": 819,
          "data": {"name": "im"},
          "encoding": {
            "x": {"field": "measured", "type": "quantitative", "title": "Im_measured[A]",
              "scale": {"domain": [0, 12], "nice": false},
              "axis": {"values": [0,2,4,6,8,10,12], "labelFontSize": 38, "titleFontSize": 41, "labelPadding": 35, "titlePadding": 26}},
            "y": {"field": "predicted", "type": "quantitative", "title": "Im_predicted[A]",
              "scale": {"domain": [0, 12], "nice": false},
              "axis": {"values": [0,2,4,6,8,10,12], "labelFontSize": 38, "titleFontSize": 39.5, "titleFont": "Open Sans", "labelPadding": 38, "titlePadding": 13}}
          },
          "layer": [
            {"data": {"values": [{"measured": 0.1, "predicted": 0.1}, {"measured": 12, "predicted": 12}]},
             "mark": {"type": "line", "color": "#ff0000", "strokeWidth": 7}},
            {"mark": {"type": "point", "filled": true, "opacity": 1, "size": 529, "shape": "circle"},
             "encoding": {"color": {"field": "series", "type": "nominal", "legend": {"title": null}}}},
            {"data": {"values": [{"measured": 0.1, "predicted": 0.1}, {"measured": 12, "predicted": 12}]},
             "mark": {"type": "point", "filled": true, "opacity": 1, "size": 480, "shape": "circle", "color": "#ff0000"}},
            {"mark": {"type": "text", "text": "x=y line", "color": "#ff0000", "fontSize": 35, "font": "Liberation Sans", "align": "center", "baseline": "middle"},
             "encoding": {"x": {"datum": 6.5}, "y": {"datum": 9.29}}}
          ]
        }
      ]
    },
    {
      "spacing": 231,
      "hconcat": [
        {
          "width": 1426, "height": 864,
          "data": {"name": "voc"},
          "encoding": {
            "x": {"field": "measured", "type": "quantitative", "title": "Voc_measured[V]",
              "scale": {"domain": [20, 80], "nice": false, "zero": false},
              "axis": {"values": [20,30,40,50,60,70,80], "labelFontSize": 38, "titleFontSize": 41, "labelPadding": 36, "titlePadding": 24}},
            "y": {"field": "predicted", "type": "quantitative", "title": "Voc_predicted[V]",
              "scale": {"domain": [20, 80], "nice": false, "zero": false},
              "axis": {"values": [20,30,40,50,60,70,80], "labelFontSize": 38, "titleFontSize": 39.5, "titleFont": "Open Sans", "labelPadding": 24, "titlePadding": 2}}
          },
          "layer": [
            {"data": {"values": [{"measured": 20, "predicted": 20}, {"measured": 80, "predicted": 80}]},
             "mark": {"type": "line", "color": "#ff0000", "strokeWidth": 7}},
            {"mark": {"type": "point", "filled": true, "opacity": 1, "size": 529, "shape": "circle"},
             "encoding": {"color": {"field": "series", "type": "nominal", "legend": {"title": null}}}},
            {"transform": [{"regression": "predicted", "on": "measured", "groupby": ["series"]}],
             "mark": {"type": "line", "strokeWidth": 5, "strokeDash": [0.1, 10], "strokeCap": "round"},
             "encoding": {"color": {"field": "series", "type": "nominal", "legend": null}}},
            {"data": {"values": [{"measured": 80, "predicted": 80}]},
             "mark": {"type": "point", "filled": true, "opacity": 1, "size": 480, "shape": "circle", "color": "#ff0000"}},
            {"mark": {"type": "text", "text": "x=y line", "color": "#ff0000", "fontSize": 35, "font": "Liberation Sans", "align": "center", "baseline": "middle"},
             "encoding": {"x": {"datum": 56.1}, "y": {"datum": 64.1}}}
          ]
        },
        {
          "width": 1388, "height": 864,
          "data": {"name": "isc"},
          "encoding": {
            "x": {"field": "measured", "type": "quantitative", "title": "Isc_measured[A]",
              "scale": {"domain": [0, 12], "nice": false},
              "axis": {"values": [0,2,4,6,8,10,12], "labelFontSize": 38, "titleFontSize": 41, "labelPadding": 36, "titlePadding": 24}},
            "y": {"field": "predicted", "type": "quantitative", "title": "Isc_predicted[A]",
              "scale": {"domain": [0, 12], "nice": false},
              "axis": {"values": [0,2,4,6,8,10,12], "labelFontSize": 38, "titleFontSize": 39.5, "titleFont": "Open Sans", "labelPadding": 38, "titlePadding": 13}}
          },
          "layer": [
            {"data": {"values": [{"measured": 0, "predicted": 0}, {"measured": 12, "predicted": 12}]},
             "mark": {"type": "line", "color": "#ff0000", "strokeWidth": 7}},
            {"mark": {"type": "point", "filled": true, "opacity": 1, "size": 529, "shape": "circle"},
             "encoding": {"color": {"field": "series", "type": "nominal", "legend": {"title": null}}}},
            {"transform": [{"regression": "predicted", "on": "measured", "groupby": ["series"]}],
             "mark": {"type": "line", "strokeWidth": 5, "strokeDash": [0.1, 10], "strokeCap": "round"},
             "encoding": {"color": {"field": "series", "type": "nominal", "legend": null}}},
            {"data": {"values": [{"measured": 0, "predicted": 0}]},
             "mark": {"type": "point", "filled": true, "opacity": 1, "size": 480, "shape": "circle", "color": "#ff0000"}}
          ]
        }
      ]
    }
  ]
}
